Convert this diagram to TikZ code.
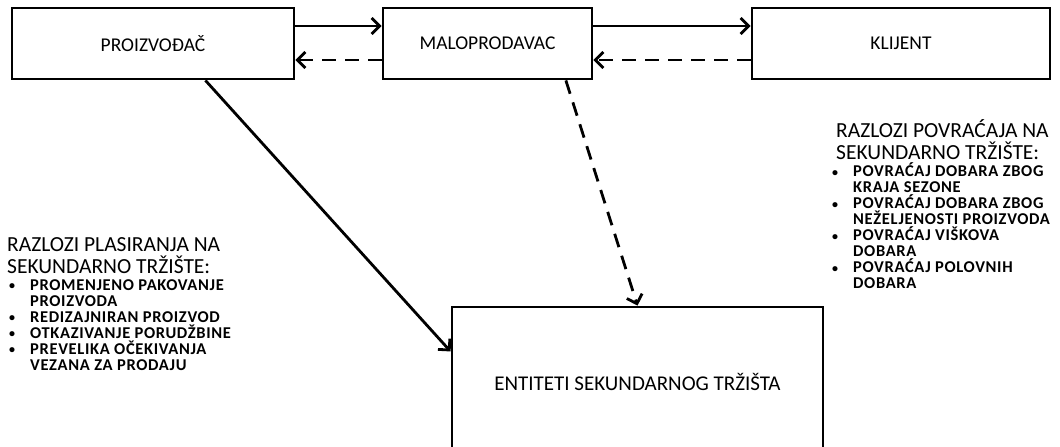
\documentclass[tikz,border=0pt]{standalone}
\usepackage{fontspec}
\setmainfont{Carlito}
\newfontfamily\listfont{Carlito}[LetterSpace=4]
\usetikzlibrary{arrows.meta,calc}

\tikzset{
  box/.style={draw, line width=2.8pt, inner sep=0pt, font=\fontsize{19.5}{24}\selectfont},
  flow/.style={line width=2.8pt, -{Straight Barb[length=8pt,width=16pt,line width=2.8pt]}},
  backflow/.style={flow, dash pattern=on 14pt off 9pt},
  heading/.style={anchor=base west, inner sep=0pt, font=\fontsize{21.5}{22}\selectfont},
  reasons/.style={anchor=base west, inner sep=0pt, font=\listfont\fontsize{16.5}{16}\selectfont\bfseries},
}
% stacked lines with a fixed baseline distance; the node's baseline is the first line's
\newcommand{\stack}[2]{\vtop{\baselineskip=#1\lineskiplimit=-100pt\lineskip=0pt #2}}
\newcommand{\textline}[1]{\hbox{#1}}
\newcommand{\itm}[1]{\hbox{\llap{\raisebox{0.5pt}{\fontsize{12}{12}\selectfont\textbullet}\hspace{15pt}}#1}}

\begin{document}
\begin{tikzpicture}[x=1pt,y=-1pt]
  \useasboundingbox (0,0) rectangle (1060,447);
  \clip (0,0) rectangle (1060,447);

  % supply chain boxes
  \node[box, minimum width=282pt, minimum height=71pt] (pr) at (153,43.5) {PROIZVOĐAČ};
  \node[box, minimum width=209pt, minimum height=71pt] (ma) at (487.5,43.5) {MALOPRODAVAC};
  \node[box, minimum width=298pt, minimum height=71pt] (kl) at (901,43.5) {KLIJENT};
  \node[box, minimum width=371pt, minimum height=150pt, font=\fontsize{21}{24}\selectfont] (en) at (637.5,382) {ENTITETI SEKUNDARNOG TRŽIŠTA};

  % forward and return flows
  \coordinate (fwd) at (0,26);
  \coordinate (ret) at (0,60);
  \draw[flow] (pr.east |- fwd) -- (ma.west |- fwd);
  \draw[backflow] (ma.west |- ret) -- (pr.east |- ret);
  \draw[flow] (ma.east |- fwd) -- (kl.west |- fwd);
  \draw[backflow] (kl.west |- ret) -- (ma.east |- ret);

  % flows into the secondary market
  \draw[flow] ($(pr.south west)!0.684!(pr.south east)$) -- ($(en.north west)!0.3!(en.south west)$);
  \draw[backflow] ($(ma.south west)!0.87!(ma.south east)$) -- (en.north);

  % placement reasons
  \node[heading] (lh) at (7,251) {\stack{22pt}{\textline{RAZLOZI PLASIRANJA NA}\textline{SEKUNDARNO TRŽIŠTE:}}};
  \node[reasons] (ll) at (30,290) {\stack{16pt}{%
    \itm{PROMENJENO PAKOVANJE}
    \textline{PROIZVODA}
    \itm{REDIZAJNIRAN PROIZVOD}
    \itm{OTKAZIVANJE PORUDŽBINE}
    \itm{PREVELIKA OČEKIVANJA}
    \textline{VEZANA ZA PRODAJU}}};

  % return reasons
  \node[heading] (rh) at (836,137) {\stack{22pt}{\textline{RAZLOZI POVRAĆAJA NA}\textline{SEKUNDARNO TRŽIŠTE:}}};
  \node[reasons] (rl) at (853,176.5) {\stack{16pt}{%
    \itm{POVRAĆAJ DOBARA ZBOG}
    \textline{KRAJA SEZONE}
    \itm{POVRAĆAJ DOBARA ZBOG}
    \textline{NEŽELJENOSTI PROIZVODA}
    \itm{POVRAĆAJ VIŠKOVA}
    \textline{DOBARA}
    \itm{POVRAĆAJ POLOVNIH}
    \textline{DOBARA}}};
\end{tikzpicture}
\end{document}
